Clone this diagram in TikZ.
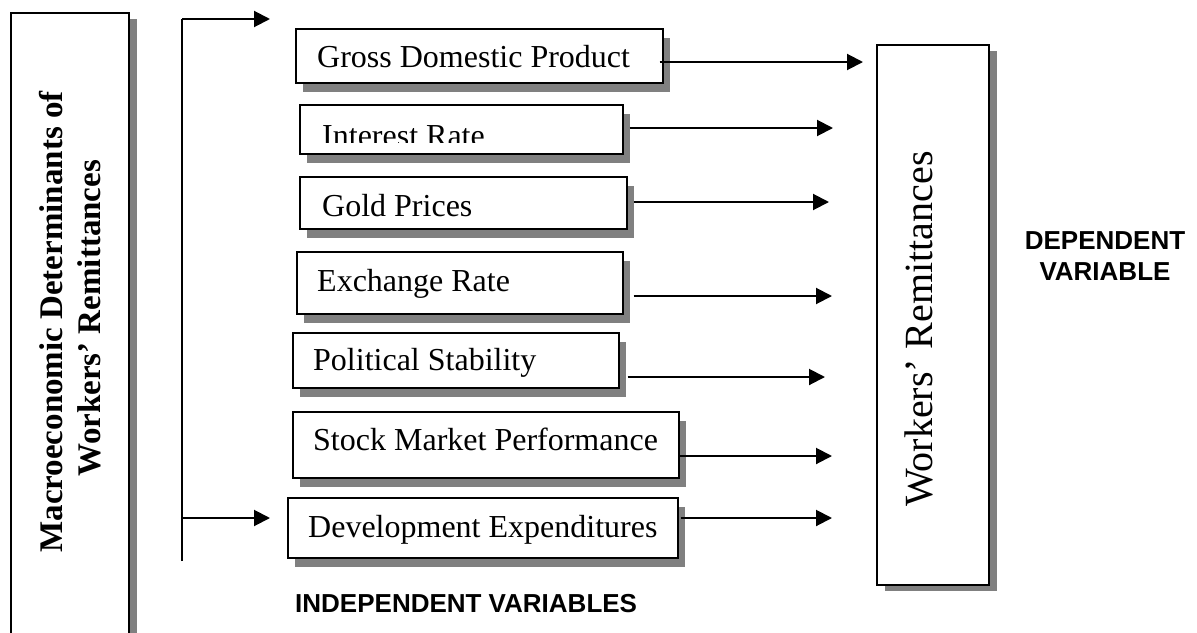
\documentclass[tikz,border=0pt]{standalone}
\usepackage{fontspec}
\setmainfont{Liberation Serif}
\setsansfont{Liberation Sans}
\usetikzlibrary{arrows.meta,shadows}
\definecolor{shadowgray}{HTML}{808080}
\begin{document}
\begin{tikzpicture}[x=1pt,y=-1pt,
  box/.style={draw, line width=1.6pt, fill=white, inner sep=0pt, anchor=north west,
    drop shadow={shadow xshift=7pt,shadow yshift=-9pt,fill=shadowgray,opacity=1,draw=none}},
  tallbox/.style={draw, line width=1.6pt, fill=white, inner sep=0pt, anchor=north west,
    drop shadow={shadow xshift=8pt,shadow yshift=-6pt,fill=shadowgray,opacity=1,draw=none}},
  arr/.style={line width=2pt, -{Triangle[length=16pt,width=16pt]}},
  conn/.style={line width=2pt},
  lbl/.style={anchor=base west, inner sep=0pt, font=\fontsize{32}{38}\selectfont},
  caps/.style={inner sep=0pt, font=\sffamily\bfseries\fontsize{26}{31}\selectfont}]
\useasboundingbox (0,0) rectangle (1197,632);
\clip (0,0) rectangle (1197,632);

% left tall box
\node[tallbox, minimum width=118pt, minimum height=640pt] (left) at (10,12) {};
\node[rotate=90, anchor=base, inner sep=0pt, font=\bfseries\fontsize{33}{38}\selectfont] (lt1) at (62,322) {Macroeconomic Determinants of};
\node[rotate=90, anchor=base, inner sep=0pt, font=\bfseries\fontsize{33}{38}\selectfont] (lt2) at (100,318) {Workers’ Remittances};

% bracket
\coordinate (btop) at (182,19);
\coordinate (bmid) at (182,518);
\coordinate (bbot) at (182,561);
\coordinate (ttip) at (270,19);
\coordinate (mtip) at (270,518);
\draw[conn] (bbot) -- (btop);
\draw[arr] (btop) -- (ttip);
\draw[arr] (bmid) -- (mtip);

% independent variable boxes
\node[box, minimum width=367pt, minimum height=54pt] (gdp) at (295,28) {};
\node[lbl] (gdpt) at (317,67) {Gross Domestic Product};

\node[box, minimum width=323pt, minimum height=49pt] (ir) at (299,104) {};
\begin{scope}
  \clip (299,104) rectangle (622,142);
  \node[lbl] (irt) at (322,146) {Interest Rate};
\end{scope}

\node[box, minimum width=327pt, minimum height=52pt] (gold) at (299,176) {};
\node[lbl] (goldt) at (322,216) {Gold Prices};

\node[box, minimum width=326pt, minimum height=62pt] (ex) at (296,251) {};
\node[lbl] (ext) at (317,291) {Exchange Rate};

\node[box, minimum width=326pt, minimum height=55pt] (pol) at (292,332) {};
\node[lbl] (polt) at (313,370) {Political Stability};

\node[box, minimum width=386pt, minimum height=66pt] (stock) at (292,411) {};
\node[lbl] (stockt) at (313,450) {Stock Market Performance};

\node[box, minimum width=390pt, minimum height=60pt] (dev) at (287,497) {};
\node[lbl] (devt) at (308,537) {Development Expenditures};

\node[caps, anchor=base west] (indep) at (295,612) {INDEPENDENT VARIABLES};

% dependent variable box
\node[tallbox, minimum width=112pt, minimum height=540pt] (wr) at (876,44) {};
\node[rotate=90, anchor=base west, inner sep=0pt, font=\fontsize{40}{46}\selectfont] (wrt) at (932,507) {Workers’ Remittances};

\node[caps, anchor=base] (dep1) at (1105,249) {DEPENDENT};
\node[caps, anchor=base] (dep2) at (1105,280) {VARIABLE};

% arrows
\coordinate (a1) at (863,62);
\coordinate (a2) at (833,128);
\coordinate (a3) at (829,202);
\coordinate (a4) at (832,296);
\coordinate (a5) at (825,377);
\coordinate (a6) at (832,456);
\coordinate (a7) at (832,518);
\draw[arr] ([xshift=-4pt]gdp.east |- a1) -- (a1);
\draw[arr] ([xshift=6pt]ir.east |- a2) -- (a2);
\draw[arr] ([xshift=6pt]gold.east |- a3) -- (a3);
\draw[arr] ([xshift=10pt]ex.east |- a4) -- (a4);
\draw[arr] ([xshift=8pt]pol.east |- a5) -- (a5);
\draw[arr] (stock.east |- a6) -- (a6);
\draw[arr] ([xshift=2pt]dev.east |- a7) -- (a7);
\end{tikzpicture}
\end{document}
